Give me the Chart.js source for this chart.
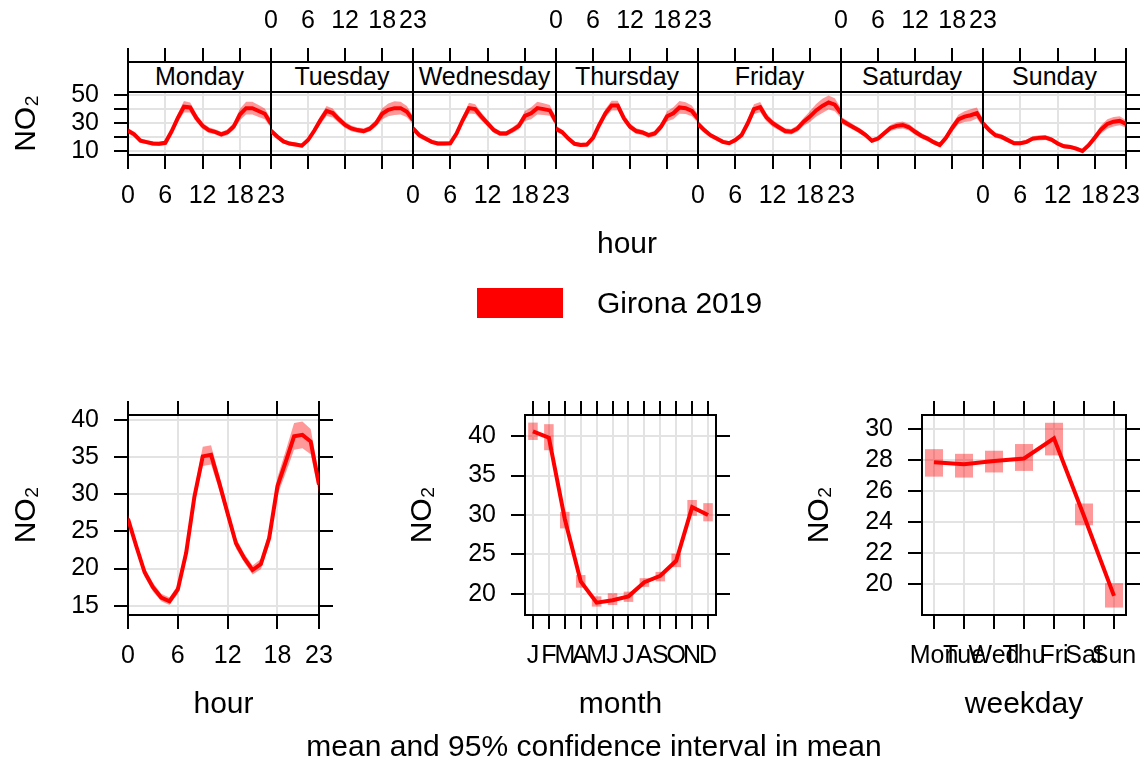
<!DOCTYPE html>
<html><head><meta charset="utf-8">
<script src="https://cdn.jsdelivr.net/npm/chart.js@4.4.1/dist/chart.umd.min.js"></script>
<style>
html,body{margin:0;padding:0;overflow:hidden;}
body{background:#fff;width:1143px;height:760px;position:relative;font-family:"Liberation Sans",Arial,sans-serif;color:#000;}
canvas{position:absolute;}
.t{position:absolute;font-size:30px;white-space:nowrap;transform:translate(-50%,-50%);line-height:1;z-index:5;}
.strip{position:absolute;box-sizing:border-box;border:2px solid #000;background:#fff;font-size:25px;text-align:center;z-index:5;line-height:26px;}
.key{position:absolute;background:#ff0000;z-index:5;}
</style></head><body>
<script>
// ---------- data ----------
const hours = [0,1,2,3,4,5,6,7,8,9,10,11,12,13,14,15,16,17,18,19,20,21,22,23];
const hourTicks = [0,6,12,18,23];
const dayNames = ['Monday','Tuesday','Wednesday','Thursday','Friday','Saturday','Sunday'];
const topYTicks = [10,20,30,40,50];
const topYLabelled = [10,30,50];

const no2Monday    = [24.5,22,17.5,16.5,15.5,15.3,16,24,33.5,41.5,41,33.5,28,25,23.8,22,23.5,27.5,36,40.5,40.5,38.5,36.5,29.5];
const no2Tuesday   = [24.5,20.5,17,15.5,14.8,14,18,24.5,32,38.5,37,32.6,28.6,26.2,25,24.3,26,29.8,36.5,39.3,40.5,40.5,38,32];
const no2Wednesday = [26.2,21.4,19,16.7,15.5,15.5,15.7,22.6,32.1,40.5,39.8,34.5,29.8,25,22.6,22.6,25,27.9,35,36.9,40.5,39.8,38.9,30.9];
const no2Thursday  = [26,23.5,19,15.3,14.5,14.8,19.5,28.6,36.9,42.3,42.3,33.3,27.4,24.3,23.3,21.4,22.6,27.4,34.8,36.9,41,40.5,38.5,33];
const no2Friday    = [29.3,25,21.4,19,16.7,15.7,17.9,21.4,29.8,39.8,41.2,34,29.8,27,24.3,23.8,26.2,30.9,34.5,38.9,42.1,44.5,42.9,36.9];
const no2Saturday  = [32.1,29.5,27,24.5,21.5,17.5,19,22.8,26.5,28,28.6,27,23.8,21,19,16.5,14.5,19.5,26.5,32.5,34.5,35.5,37,30];
const no2Sunday    = [29.8,25,21.4,20.2,17.9,15.7,15.7,16.7,19,19.5,19.8,18.3,15.5,13.6,13.1,11.9,10.2,14.3,19.8,25.5,29.3,30.9,31.6,29.3];

// half-width of the 95% confidence interval
const ciMonday    = [2,1.8,1.5,1.5,1.5,1.5,1.5,2,3,4,3.5,2.8,2.2,2,1.8,1.8,2,2.5,4,4.5,4.5,4.2,3.8,3];
const ciTuesday   = [2,1.8,1.5,1.5,1.5,1.5,1.6,2,2.8,3.5,3.2,2.6,2.2,2,1.8,1.8,2,2.5,4,4.5,4.8,4.5,4,3];
const ciWednesday = [2.2,2,1.7,1.5,1.5,1.5,1.5,2,2.8,3.8,3.4,2.8,2.3,2,1.8,1.8,2,2.5,3.5,4.2,4.5,4.2,3.8,3];
const ciThursday  = [2.2,1.8,1.5,1.5,1.5,1.5,1.6,2,3,3.5,3.5,2.8,2.2,2,1.8,1.8,2,2.5,3.5,4.2,4.5,4.2,3.8,3];
const ciFriday    = [2.4,2.1,1.8,1.6,1.5,1.5,1.6,1.9,2.8,3.5,3.6,2.8,2.4,2.2,2,2,2.3,2.8,3.8,4.5,5,5,4.6,3.6];
const ciSaturday  = [2.4,2.2,2,1.9,1.8,1.6,1.6,1.8,2.1,2.4,2.5,2.3,2.1,1.9,1.8,1.7,1.7,2.2,2.7,3.3,3.8,4.2,3.9,3];
const ciSunday    = [2.2,2,1.9,1.8,1.6,1.5,1.5,1.5,1.6,1.8,1.8,1.6,1.6,1.5,1.5,1.5,1.5,1.8,2.2,3,3.3,3.4,3.2,2.6];

const hourMean = [26.7,23,19.5,17.5,16.1,15.6,17.2,22.1,29.7,35.1,35.3,31.5,27.4,23.4,21.4,19.8,20.6,24.1,31.1,34.4,37.8,38,37.1,31.3];
const hourCI   = [0.6,0.6,0.6,0.6,0.5,0.5,0.6,0.6,0.9,1.3,1.3,1.0,0.8,0.7,0.6,0.6,0.7,0.9,1.2,1.5,1.8,1.8,1.7,1.2];
const hourYTicks = [15,20,25,30,35,40];

const monthNum    = [1,2,3,4,5,6,7,8,9,10,11,12];
const monthLabels = ['J','F','M','A','M','J','J','A','S','O','N','D'];
const monthMean = [40.6,39.8,29.5,21.6,18.9,19.2,19.7,21.5,22.3,24.2,31.0,30.0];
const monthLo   = [39.5,38.2,28.3,20.8,18.4,18.6,19.0,20.9,21.6,23.4,29.9,29.2];
const monthHi   = [41.7,41.5,30.4,22.4,19.7,20.1,20.3,22.0,22.8,25.1,31.9,31.5];
const monthYTicks = [20,25,30,35,40];

const weekdayNum    = [1,2,3,4,5,6,7];
const weekdayLabels = ['Mon','Tue','Wed','Thu','Fri','Sat','Sun'];
const weekdayMean = [27.85,27.73,27.94,28.1,29.4,24.4,19.25];
const weekdayLo   = [26.93,26.87,27.2,27.3,28.3,23.8,18.5];
const weekdayHi   = [28.7,28.4,28.6,29.03,30.4,25.2,20.07];
const weekdayYTicks = [20,22,24,26,28,30];

// ---------- styling / layout ----------
const FONT = '"Liberation Sans", Arial, sans-serif';
const BLACK = '#000000';
const GRID = '#e3e3e3';
const RED = '#ff0000';
const BAND = 'rgba(255,0,0,0.4)';
Chart.defaults.font.family = FONT;
Chart.defaults.color = BLACK;

function addCanvas(left, top, w, h){
  const c = document.createElement('canvas');
  c.width = w; c.height = h;
  c.style.left = left+'px'; c.style.top = top+'px';
  c.style.width = w+'px'; c.style.height = h+'px';
  document.body.appendChild(c);
  return c;
}
function xScale(pos, o){
  return {
    type:'linear', position:pos, min:o.min, max:o.max, offset:false,
    afterBuildTicks: s => { s.ticks = o.ticks.map(v => ({value:v})); },
    afterFit: s => { s.height = o.size; },
    grid:{display:true, offset:false, drawOnChartArea: pos==='bottom', color:GRID, lineWidth:2,
          drawTicks: o.tl>0, tickLength: o.tl||0, tickColor:BLACK, tickWidth:2},
    border:{display:true, color:BLACK, width:2},
    ticks:{display: !!o.labels, autoSkip:false, maxRotation:0, minRotation:0, padding:12,
           font:{size:25}, color:BLACK, callback: o.fmt || (v => String(v))},
    title: o.title ? {display:true, text:o.title, font:{size:30}, color:BLACK, padding:{top:0,bottom:o.titlePad}} : {display:false}
  };
}
function yScale(pos, o){
  return {
    type:'linear', position:pos, min:o.min, max:o.max,
    afterBuildTicks: s => { s.ticks = o.ticks.map(v => ({value:v})); },
    afterFit: s => { s.width = o.size; },
    grid:{display:true, drawOnChartArea: pos==='left', color:GRID, lineWidth:2,
          drawTicks: o.tl>0, tickLength: o.tl||0, tickColor:BLACK, tickWidth:2},
    border:{display:true, color:BLACK, width:2},
    ticks:{display: !!o.labels, autoSkip:false, padding:15, font:{size:25}, color:BLACK,
           callback: o.fmt || (v => String(v))},
    title: o.title ? {display:true, text:o.title, font:{size:30}, color:BLACK, padding:{top:o.titlePad,bottom:0}} : {display:false}
  };
}
function lineDS(xs, ys){
  return {type:'line', data: xs.map((x,k)=>({x:x, y:ys[k]})), borderColor:RED, borderWidth:4,
          pointRadius:0, tension:0, fill:false, xAxisID:'x', yAxisID:'y'};
}
function bandDS(xs, lo, hi){
  return [
    {type:'line', data: xs.map((x,k)=>({x:x, y:lo[k]})), borderWidth:0, borderColor:'rgba(0,0,0,0)', pointRadius:0, tension:0, fill:false, xAxisID:'x', yAxisID:'y'},
    {type:'line', data: xs.map((x,k)=>({x:x, y:hi[k]})), borderWidth:0, borderColor:'rgba(0,0,0,0)', pointRadius:0, tension:0, fill:'-1', backgroundColor:BAND, xAxisID:'x', yAxisID:'y'}
  ];
}
const baseOpts = {responsive:false, animation:false, layout:{padding:0},
  plugins:{legend:{display:false}, tooltip:{enabled:false}, title:{display:false}}};

// ---------- top: hour by weekday ----------
const dayMeans = [no2Monday,no2Tuesday,no2Wednesday,no2Thursday,no2Friday,no2Saturday,no2Sunday];
const dayCI = [ciMonday,ciTuesday,ciWednesday,ciThursday,ciFriday,ciSaturday,ciSunday];
const edges = [128,271,413,556,698,841,983,1126];
const TOPMIN = 7.4, TOPMAX = 51.9;
dayNames.forEach((name, i) => {
  const L = edges[i], R = edges[i+1];
  const padL = i===0 ? 128 : 60, padR = 60;
  const cv = addCanvas(L-padL, 0, padL+(R-L)+padR, 230);
  const mean = dayMeans[i], ci = dayCI[i];
  const lo = mean.map((v,k)=>v-ci[k]), hi = mean.map((v,k)=>v+ci[k]);
  new Chart(cv, {
    type:'line',
    data:{datasets:[lineDS(hours, mean), ...bandDS(hours, lo, hi)]},
    options:Object.assign({}, baseOpts, {scales:{
      x:  xScale('bottom', {min:0, max:23, ticks:hourTicks, size:75, tl:14, labels: i%2===0}),
      x2: xScale('top',    {min:0, max:23, ticks:hourTicks, size:92, tl:44, labels: i%2===1}),
      y:  yScale('left',   {min:TOPMIN, max:TOPMAX, ticks:topYTicks, size:padL, tl: i===0?14:0, labels: i===0,
                            fmt: v => topYLabelled.includes(v) ? String(v) : '', title: i===0 ? 'NO₂' : null, titlePad:9}),
      y2: yScale('right',  {min:TOPMIN, max:TOPMAX, ticks:topYTicks, size:padR, tl: i===6?14:0, labels:false})
    }})
  });
  const s = document.createElement('div');
  s.className = 'strip';
  s.style.left = (L-1)+'px'; s.style.top = '61px';
  s.style.width = (R-L+2)+'px'; s.style.height = '32px';
  s.textContent = name;
  document.body.appendChild(s);
});

// ---------- bottom: hour ----------
(function(){
  const cv = addCanvas(0, 340, 380, 390);
  const lo = hourMean.map((v,k)=>v-hourCI[k]), hi = hourMean.map((v,k)=>v+hourCI[k]);
  new Chart(cv, {
    type:'line',
    data:{datasets:[lineDS(hours, hourMean), ...bandDS(hours, lo, hi)]},
    options:Object.assign({}, baseOpts, {scales:{
      x:  xScale('bottom', {min:0, max:23, ticks:hourTicks, size:115, tl:14, labels:true, title:'hour', titlePad:7}),
      x2: xScale('top',    {min:0, max:23, ticks:hourTicks, size:75, tl:14, labels:false}),
      y:  yScale('left',   {min:13.75, max:40.67, ticks:hourYTicks, size:128, tl:14, labels:true, title:'NO₂', titlePad:9}),
      y2: yScale('right',  {min:13.75, max:40.67, ticks:hourYTicks, size:61, tl:14, labels:false})
    }})
  });
})();

// ---------- bottom: month ----------
(function(){
  const cv = addCanvas(400, 340, 376, 390);
  new Chart(cv, {
    type:'line',
    data:{datasets:[
      lineDS(monthNum, monthMean),
      {type:'bar', data: monthNum.map((m,k)=>({x:m, y:[monthLo[k], monthHi[k]]})), backgroundColor:BAND,
       borderWidth:0, barPercentage:0.6, categoryPercentage:1, xAxisID:'x', yAxisID:'y'}
    ]},
    options:Object.assign({}, baseOpts, {scales:{
      x:  xScale('bottom', {min:0.5, max:12.5, ticks:monthNum, size:115, tl:14, labels:true, title:'month', titlePad:7,
                            fmt: v => monthLabels[v-1]}),
      x2: xScale('top',    {min:0.5, max:12.5, ticks:monthNum, size:75, tl:14, labels:false}),
      y:  yScale('left',   {min:17.34, max:42.66, ticks:monthYTicks, size:125, tl:14, labels:true, title:'NO₂', titlePad:5}),
      y2: yScale('right',  {min:17.34, max:42.66, ticks:monthYTicks, size:60, tl:14, labels:false})
    }})
  });
})();

// ---------- bottom: weekday ----------
(function(){
  const cv = addCanvas(795, 340, 391, 390);
  new Chart(cv, {
    type:'line',
    data:{datasets:[
      lineDS(weekdayNum, weekdayMean),
      {type:'bar', data: weekdayNum.map((d,k)=>({x:d, y:[weekdayLo[k], weekdayHi[k]]})), backgroundColor:BAND,
       borderWidth:0, barPercentage:0.6, categoryPercentage:1, xAxisID:'x', yAxisID:'y'}
    ]},
    options:Object.assign({}, baseOpts, {scales:{
      x:  xScale('bottom', {min:0.6, max:7.4, ticks:weekdayNum, size:115, tl:14, labels:true, title:'weekday', titlePad:7,
                            fmt: v => weekdayLabels[v-1]}),
      x2: xScale('top',    {min:0.6, max:7.4, ticks:weekdayNum, size:75, tl:14, labels:false}),
      y:  yScale('left',   {min:18.02, max:30.9, ticks:weekdayYTicks, size:127, tl:14, labels:true, title:'NO₂', titlePad:7}),
      y2: yScale('right',  {min:18.02, max:30.9, ticks:weekdayYTicks, size:60, tl:14, labels:false})
    }})
  });
})();

// ---------- text / key ----------
function addText(txt, cx, cy){
  const d = document.createElement('div');
  d.className = 't'; d.textContent = txt;
  d.style.left = cx+'px'; d.style.top = cy+'px';
  document.body.appendChild(d);
}
addText('hour', 627, 243);
addText('mean and 95% confidence interval in mean', 594, 746);
const key = document.createElement('div');
key.className = 'key';
key.style.left = '477px'; key.style.top = '288px'; key.style.width = '86px'; key.style.height = '30px';
document.body.appendChild(key);
const kt = document.createElement('div');
kt.className = 't'; kt.textContent = 'Girona 2019';
kt.style.left = '597px'; kt.style.top = '303px'; kt.style.transform = 'translate(0,-50%)';
document.body.appendChild(kt);
</script>
</body></html>
